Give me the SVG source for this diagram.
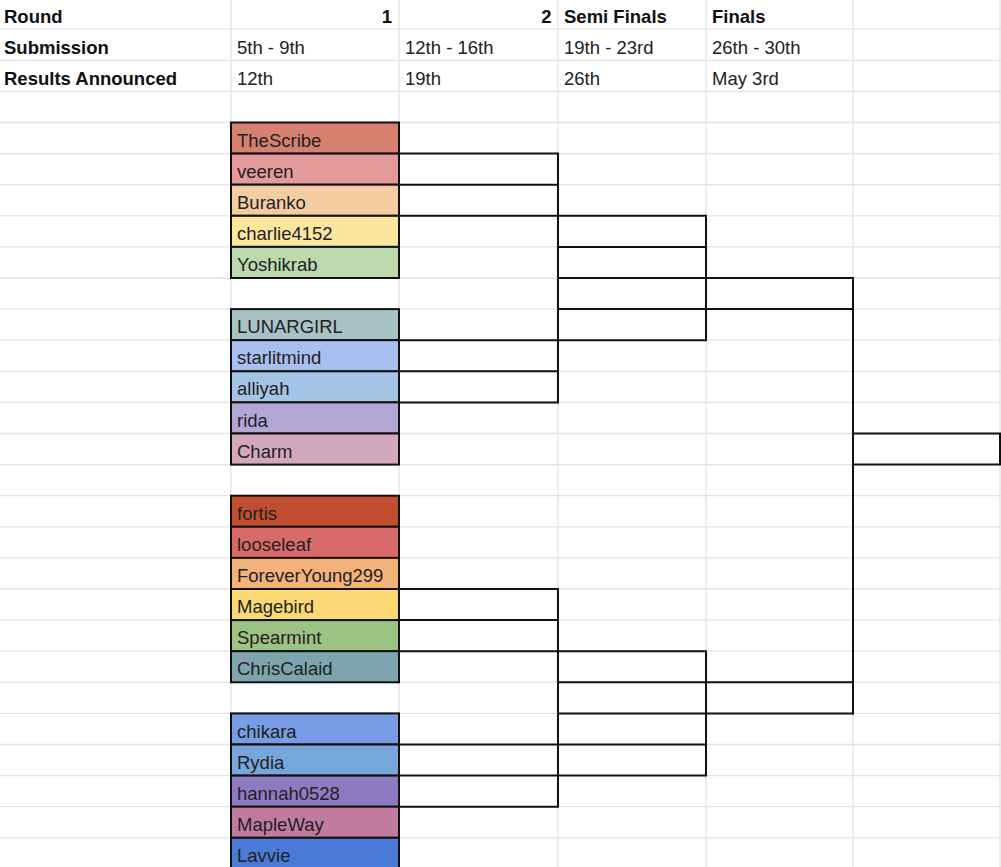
<svg xmlns="http://www.w3.org/2000/svg" width="1001" height="867" viewBox="0 0 1001 867">
<style>
.grid{stroke:#e3e3e3;stroke-width:1.3;fill:none}
.cell{stroke:#111;stroke-width:2}
.br{stroke:#111;stroke-width:2;fill:none;stroke-linecap:square}
.t{font-family:"Liberation Sans",Arial,sans-serif;font-size:18.5px;fill:#222}
.h{font-family:"Liberation Sans",Arial,sans-serif;font-size:18.5px;font-weight:bold;fill:#111}
</style>
<rect width="1001" height="867" fill="#fff"/>
<g id="gridlines">
<path class="grid" d="M0 29.2H1001M0 60.3H1001M0 91.4H1001M0 122.5H1001M0 153.6H1001M0 184.7H1001M0 215.8H1001M0 246.9H1001M0 278H1001M0 309.1H1001M0 340.2H1001M0 371.3H1001M0 402.4H1001M0 433.5H1001M0 464.6H1001M0 495.7H1001M0 526.8H1001M0 557.9H1001M0 589H1001M0 620.1H1001M0 651.2H1001M0 682.3H1001M0 713.4H1001M0 744.5H1001M0 775.6H1001M0 806.7H1001M0 837.8H1001"/>
<path class="grid" d="M231 0V867M399 0V867M558 0V867M706 0V867M853 0V867M1000 0V867"/>
</g>
<g id="header">
<text class="h" x="4" y="22.5">Round</text>
<text class="h" x="392" y="22.5" text-anchor="end">1</text>
<text class="h" x="551.5" y="22.5" text-anchor="end">2</text>
<text class="h" x="564" y="22.5">Semi Finals</text>
<text class="h" x="712" y="22.5">Finals</text>
<text class="h" x="4" y="53.5">Submission</text>
<text class="t" x="237" y="53.5">5th - 9th</text>
<text class="t" x="405" y="53.5">12th - 16th</text>
<text class="t" x="564" y="53.5">19th - 23rd</text>
<text class="t" x="712" y="53.5">26th - 30th</text>
<text class="h" x="4" y="84.5">Results Announced</text>
<text class="t" x="237" y="84.5">12th</text>
<text class="t" x="405" y="84.5">19th</text>
<text class="t" x="564" y="84.5">26th</text>
<text class="t" x="712" y="84.5">May 3rd</text>
</g>
<g id="connectors">
<path class="br" d="M399 153.6H558V402.4M399 184.7H558M399 215.8H706V340.2H399M558 246.9H706M558 278H853V713.4M558 309.1H853M399 371.3H558M399 402.4H558"/>
<path class="br" d="M853 433.5H1000V464.6H853"/>
<path class="br" d="M399 589H558V806.7H399M399 620.1H558M399 651.2H706V775.6H399M558 682.3H853M558 713.4H853M399 744.5H706"/>
</g>
<g id="n-thescribe"><rect class="cell" x="231" y="122.5" width="168" height="31.1" fill="#d6816f"/><text class="t" x="237" y="146.6">TheScribe</text></g>
<g id="n-veeren"><rect class="cell" x="231" y="153.6" width="168" height="31.1" fill="#e29a9a"/><text class="t" x="237" y="177.7">veeren</text></g>
<g id="n-buranko"><rect class="cell" x="231" y="184.7" width="168" height="31.1" fill="#f4cca2"/><text class="t" x="237" y="208.8">Buranko</text></g>
<g id="n-charlie4152"><rect class="cell" x="231" y="215.8" width="168" height="31.1" fill="#fce59f"/><text class="t" x="237" y="239.9">charlie4152</text></g>
<g id="n-yoshikrab"><rect class="cell" x="231" y="246.9" width="168" height="31.1" fill="#bdd8ad"/><text class="t" x="237" y="271">Yoshikrab</text></g>
<g id="n-lunargirl"><rect class="cell" x="231" y="309.1" width="168" height="31.1" fill="#a7c3c6"/><text class="t" x="237" y="333.2">LUNARGIRL</text></g>
<g id="n-starlitmind"><rect class="cell" x="231" y="340.2" width="168" height="31.1" fill="#a8c0ef"/><text class="t" x="237" y="364.3">starlitmind</text></g>
<g id="n-alliyah"><rect class="cell" x="231" y="371.3" width="168" height="31.1" fill="#a3c4e4"/><text class="t" x="237" y="395.4">alliyah</text></g>
<g id="n-rida"><rect class="cell" x="231" y="402.4" width="168" height="31.1" fill="#b2a6d4"/><text class="t" x="237" y="426.5">rida</text></g>
<g id="n-charm"><rect class="cell" x="231" y="433.5" width="168" height="31.1" fill="#d3a8bc"/><text class="t" x="237" y="457.6">Charm</text></g>
<g id="n-fortis"><rect class="cell" x="231" y="495.7" width="168" height="31.1" fill="#c24e32"/><text class="t" x="237" y="519.8">fortis</text></g>
<g id="n-looseleaf"><rect class="cell" x="231" y="526.8" width="168" height="31.1" fill="#d86b6a"/><text class="t" x="237" y="550.9">looseleaf</text></g>
<g id="n-foreveryoung299"><rect class="cell" x="231" y="557.9" width="168" height="31.1" fill="#f2b27a"/><text class="t" x="237" y="582">ForeverYoung299</text></g>
<g id="n-magebird"><rect class="cell" x="231" y="589" width="168" height="31.1" fill="#fad874"/><text class="t" x="237" y="613.1">Magebird</text></g>
<g id="n-spearmint"><rect class="cell" x="231" y="620.1" width="168" height="31.1" fill="#9cc383"/><text class="t" x="237" y="644.2">Spearmint</text></g>
<g id="n-chriscalaid"><rect class="cell" x="231" y="651.2" width="168" height="31.1" fill="#7ea4ad"/><text class="t" x="237" y="675.3">ChrisCalaid</text></g>
<g id="n-chikara"><rect class="cell" x="231" y="713.4" width="168" height="31.1" fill="#789de6"/><text class="t" x="237" y="737.5">chikara</text></g>
<g id="n-rydia"><rect class="cell" x="231" y="744.5" width="168" height="31.1" fill="#77a6da"/><text class="t" x="237" y="768.6">Rydia</text></g>
<g id="n-hannah0528"><rect class="cell" x="231" y="775.6" width="168" height="31.1" fill="#8d7bc2"/><text class="t" x="237" y="799.7">hannah0528</text></g>
<g id="n-mapleway"><rect class="cell" x="231" y="806.7" width="168" height="31.1" fill="#c07c9f"/><text class="t" x="237" y="830.8">MapleWay</text></g>
<g id="n-lavvie"><rect class="cell" x="231" y="837.8" width="168" height="31.1" fill="#4a7ad5"/><text class="t" x="237" y="861.9">Lavvie</text></g>
</svg>
